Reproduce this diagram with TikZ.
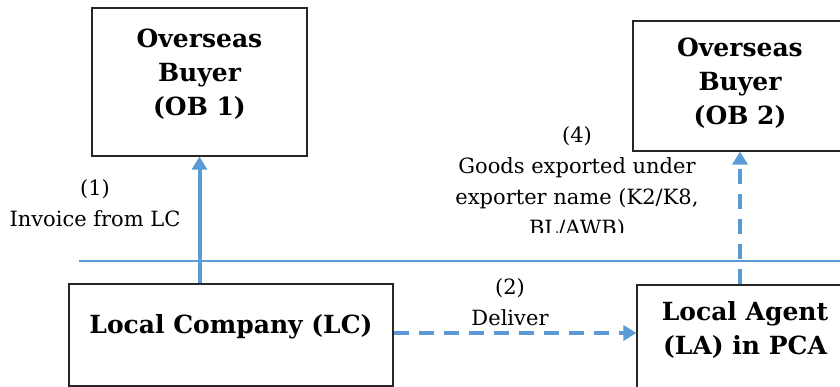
\documentclass[tikz,border=0pt]{standalone}
\usepackage{fontspec}
\setmainfont{DejaVu Serif}
\usetikzlibrary{arrows.meta,positioning}
\definecolor{flowblue}{HTML}{5B9BD5}
\begin{document}
\begin{tikzpicture}
[x=1pt,y=-1pt,
  boxdecorate/.style={shape=rectangle,draw=black!85,line width=1.2pt,inner sep=0pt},%
  boxtext/.style={align=center,font=\fontsize{25}{34}\selectfont\bfseries,inner sep=0pt},%
  labeltext/.style={align=center,font=\fontsize{21}{31}\selectfont,inner sep=0pt},%
  linedecorate/.style={draw=flowblue,line width=4pt,-{Triangle[length=13pt,width=15pt]}},%
  dashdecorate/.style={linedecorate,dash pattern=on 15pt off 10pt},%
  rulerline/.style={draw=flowblue,line width=1.2pt}]
\useasboundingbox (0,0) rectangle (840,387);
%% boxes
\node (OB1) at (199.5,82) [boxdecorate,minimum width=215,minimum height=148] {};
\node (OB2) at (745.5,86) [boxdecorate,minimum width=225,minimum height=130] {};
\node (LC) at (231,335) [boxdecorate,minimum width=324,minimum height=102] {};
\node (LA) at (749.5,345) [boxdecorate,minimum width=225,minimum height=120] {};
%% box texts
\node (OB1t) at (199.5,74) [boxtext] {Overseas\\Buyer\\(OB 1)};
\node (OB2t) at (740,83) [boxtext] {Overseas\\Buyer\\(OB 2)};
\node (LCt) at (231,327) [boxtext] {Local Company (LC)};
\node (LAt) at (745,330) [boxtext] {Local Agent\\(LA) in PCA};
%% separator
\coordinate (sepL) at (79,261);
\coordinate (sepR) at (850,261);
\draw[rulerline] (sepL) -- (sepR);
%% labels
\node (lab1) at (95,203) [labeltext] {(1)\\Invoice from LC};
\node (lab2) at (510,302) [labeltext] {(2)\\Deliver};
\begin{scope}
\clip (400,110) rectangle (720,233);
\node (lab4) at (577,183) [labeltext] {(4)\\Goods exported under\\exporter name (K2/K8,\\BL/AWB)};
\end{scope}
%% arrows
\draw[linedecorate] (LC.north -| OB1.south) -- (OB1.south);
\draw[dashdecorate] ([yshift=2]LC.east) -- ([yshift=2]LC.east -| LA.west);
\draw[dashdecorate] (OB2t.south |- LA.north) -- (OB2t.south |- OB2.south);
\end{tikzpicture}
\end{document}
